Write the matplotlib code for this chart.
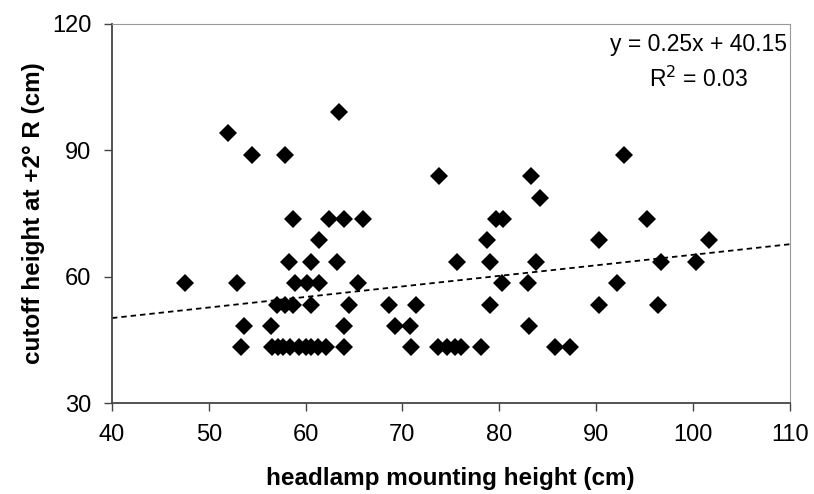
import numpy as np
import matplotlib.pyplot as plt

plt.rcParams['font.family'] = ['Liberation Sans', 'DejaVu Sans']

# Scatter data: headlamp mounting height (cm) vs cutoff height at +2 deg R (cm)
mount_height = [
    63.5, 52.0, 54.5, 57.9, 58.7, 62.4, 64.0, 61.4, 58.3, 60.6, 63.2,
    47.5, 52.9, 58.9, 60.1, 61.4, 57.0, 57.9, 58.7, 60.6, 64.5,
    53.6, 56.4, 64.0, 53.3, 56.5, 57.1, 57.7, 58.4, 59.3, 60.0, 60.6,
    61.3, 62.1, 64.0,
    73.8, 83.3, 84.2, 65.9, 79.7, 80.4, 78.7, 75.6, 79.1, 83.8, 65.4,
    80.3, 83.0, 68.6, 71.4, 79.1, 69.2, 70.8, 83.1, 70.9, 73.7, 74.6,
    75.4, 76.1, 78.1, 85.8, 87.3,
    92.9, 95.3, 90.3, 101.7, 96.7, 100.3, 92.2, 90.3, 96.4,
]
cutoff_height = [
    99.1, 94.0, 88.9, 88.9, 73.7, 73.7, 73.7, 68.6, 63.5, 63.5, 63.5,
    58.4, 58.4, 58.4, 58.4, 58.4, 53.3, 53.3, 53.3, 53.3, 53.3,
    48.3, 48.3, 48.3, 43.2, 43.2, 43.2, 43.2, 43.2, 43.2, 43.2, 43.2,
    43.2, 43.2, 43.2,
    83.8, 83.8, 78.7, 73.7, 73.7, 73.7, 68.6, 63.5, 63.5, 63.5, 58.4,
    58.4, 58.4, 53.3, 53.3, 53.3, 48.3, 48.3, 48.3, 43.2, 43.2, 43.2,
    43.2, 43.2, 43.2, 43.2, 43.2,
    88.9, 73.7, 68.6, 68.6, 63.5, 63.5, 58.4, 53.3, 53.3,
]

# linear trend shown on the chart
slope, intercept = 0.25, 40.15
trend_x = np.array([40, 110])

fig = plt.figure(figsize=(8.14, 4.94), dpi=100)
ax = fig.add_axes([0.1376, 0.1842, 0.8324, 0.7682])

ax.plot(mount_height, cutoff_height, linestyle='none', marker='D',
        markersize=8.8, color='black', markeredgewidth=0)
ax.plot(trend_x, slope * trend_x + intercept, color='black', lw=1.3,
        linestyle=(0, (3, 2.2)))

ax.set_xlim(40, 110)
ax.set_ylim(30, 120)
ax.set_xticks(np.arange(40, 111, 10))
ax.set_yticks([30, 60, 90, 120])
ax.tick_params(direction='out', length=6, width=1, labelsize=17, pad=9,
               color='#444444')

for side in ['top', 'right']:
    ax.spines[side].set_color('#999999')
for side in ['left', 'bottom']:
    ax.spines[side].set_color('#444444')
    ax.spines[side].set_linewidth(1.3)

ax.set_xlabel('headlamp mounting height (cm)', fontsize=17.5, fontweight='bold',
              labelpad=15)
ax.set_ylabel('cutoff height at +2° R (cm)', fontsize=17.5, fontweight='bold',
              labelpad=5)

ax.text(0.865, 0.975, 'y = 0.25x + 40.15', transform=ax.transAxes,
        fontsize=16.5, ha='center', va='top')
ax.text(0.865, 0.885, 'R$^2$ = 0.03', transform=ax.transAxes,
        fontsize=16.5, ha='center', va='top')

fig.savefig('out.png', dpi=100)
